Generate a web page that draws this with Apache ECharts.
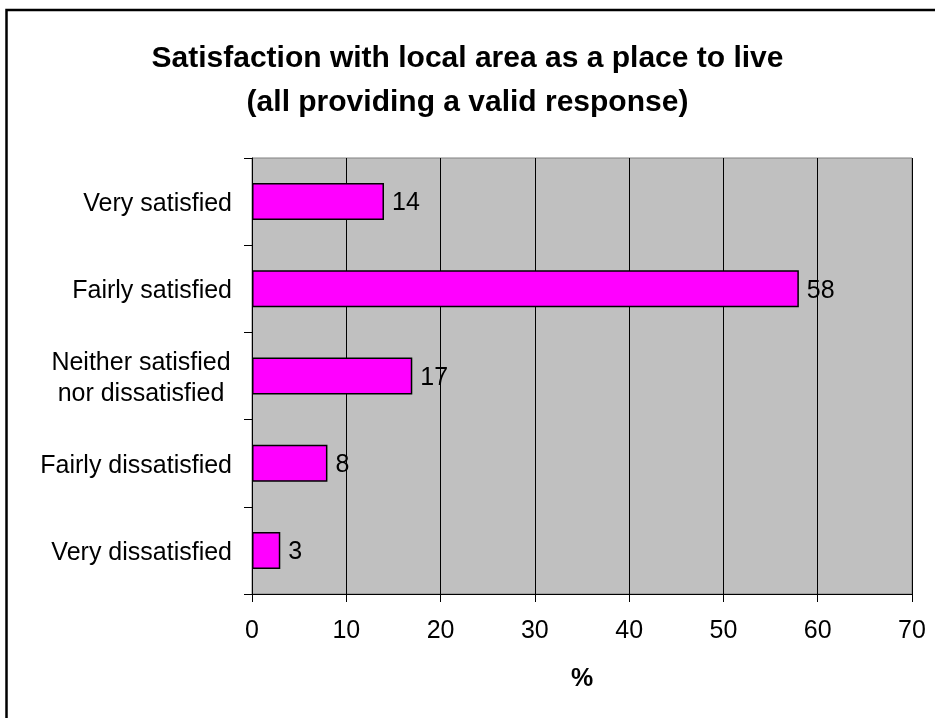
<!DOCTYPE html>
<html>
<head>
<meta charset="utf-8">
<script src="https://cdn.jsdelivr.net/npm/echarts@6/dist/echarts.min.js"></script>
<style>
  html, body { margin: 0; padding: 0; background: #ffffff; }
  #chart { width: 935px; height: 718px; }
</style>
</head>
<body>
<div id="chart"></div>
<script>
// Survey responses, top to bottom
var categories = [
  'Very satisfied',
  'Fairly satisfied',
  'Neither satisfied\nnor dissatisfied',
  'Fairly dissatisfied',
  'Very dissatisfied'
];
var percentages = [14, 58, 17, 8, 3];
var xTicks = [0, 10, 20, 30, 40, 50, 60, 70];

var FONT = '"Liberation Sans", Arial, sans-serif';
var LABEL_SIZE = 25;

var chart = echarts.init(document.getElementById('chart'), null, { renderer: 'canvas' });

chart.setOption({
  backgroundColor: '#ffffff',
  animation: false,
  title: {
    text: 'Satisfaction with local area as a place to live\n(all providing a valid response)',
    left: 'center',
    top: 32,
    textStyle: {
      fontFamily: FONT,
      fontSize: 30,
      fontWeight: 'bold',
      color: '#000000',
      lineHeight: 44
    }
  },
  graphic: [{
    type: 'rect',
    shape: { x: 6.5, y: 10, width: 2000, height: 2000 },
    style: { fill: 'none', stroke: '#000000', lineWidth: 2.5 },
    silent: true
  }],
  grid: {
    left: 252,
    right: 23,
    top: 158,
    bottom: 124,
    show: true,
    backgroundColor: '#C0C0C0',
    borderColor: '#808080',
    borderWidth: 1
  },
  xAxis: {
    type: 'value',
    min: xTicks[0],
    max: xTicks[xTicks.length - 1],
    interval: 10,
    name: '%',
    nameLocation: 'middle',
    nameGap: 73,
    nameTextStyle: { fontFamily: FONT, fontSize: LABEL_SIZE, fontWeight: 'bold', color: '#000' },
    axisLine: { show: true, lineStyle: { color: '#000', width: 1 } },
    axisTick: { show: true, length: 8, lineStyle: { color: '#000', width: 1 } },
    axisLabel: { fontFamily: FONT, fontSize: LABEL_SIZE, color: '#000', margin: 25 },
    splitLine: { show: true, lineStyle: { color: '#000', width: 1 } }
  },
  yAxis: {
    type: 'category',
    data: categories,
    inverse: true,
    axisLine: { show: true, lineStyle: { color: '#000', width: 1 } },
    axisTick: { show: true, length: 8, lineStyle: { color: '#000', width: 1 } },
    axisLabel: {
      fontFamily: FONT,
      fontSize: LABEL_SIZE,
      color: '#000',
      margin: 20,
      lineHeight: 31,
      padding: [5, 0, 0, 0],
      formatter: function (v) {
        if (v.indexOf('\n') >= 0) {
          return v.split('\n').map(function (s) { return '{c|' + s + '}'; }).join('\n');
        }
        return v;
      },
      rich: {
        c: { fontFamily: FONT, fontSize: LABEL_SIZE, color: '#000', width: 182, align: 'center', lineHeight: 31 }
      }
    },
    splitLine: { show: false }
  },
  series: [{
    type: 'bar',
    data: percentages,
    barWidth: 37,
    itemStyle: { color: '#FF00FF', borderColor: '#000000', borderWidth: 1.5 },
    label: {
      show: true,
      position: 'right',
      distance: 8,
      offset: [0, 2],
      fontFamily: FONT,
      fontSize: LABEL_SIZE,
      color: '#000'
    }
  }]
});
</script>
</body>
</html>
